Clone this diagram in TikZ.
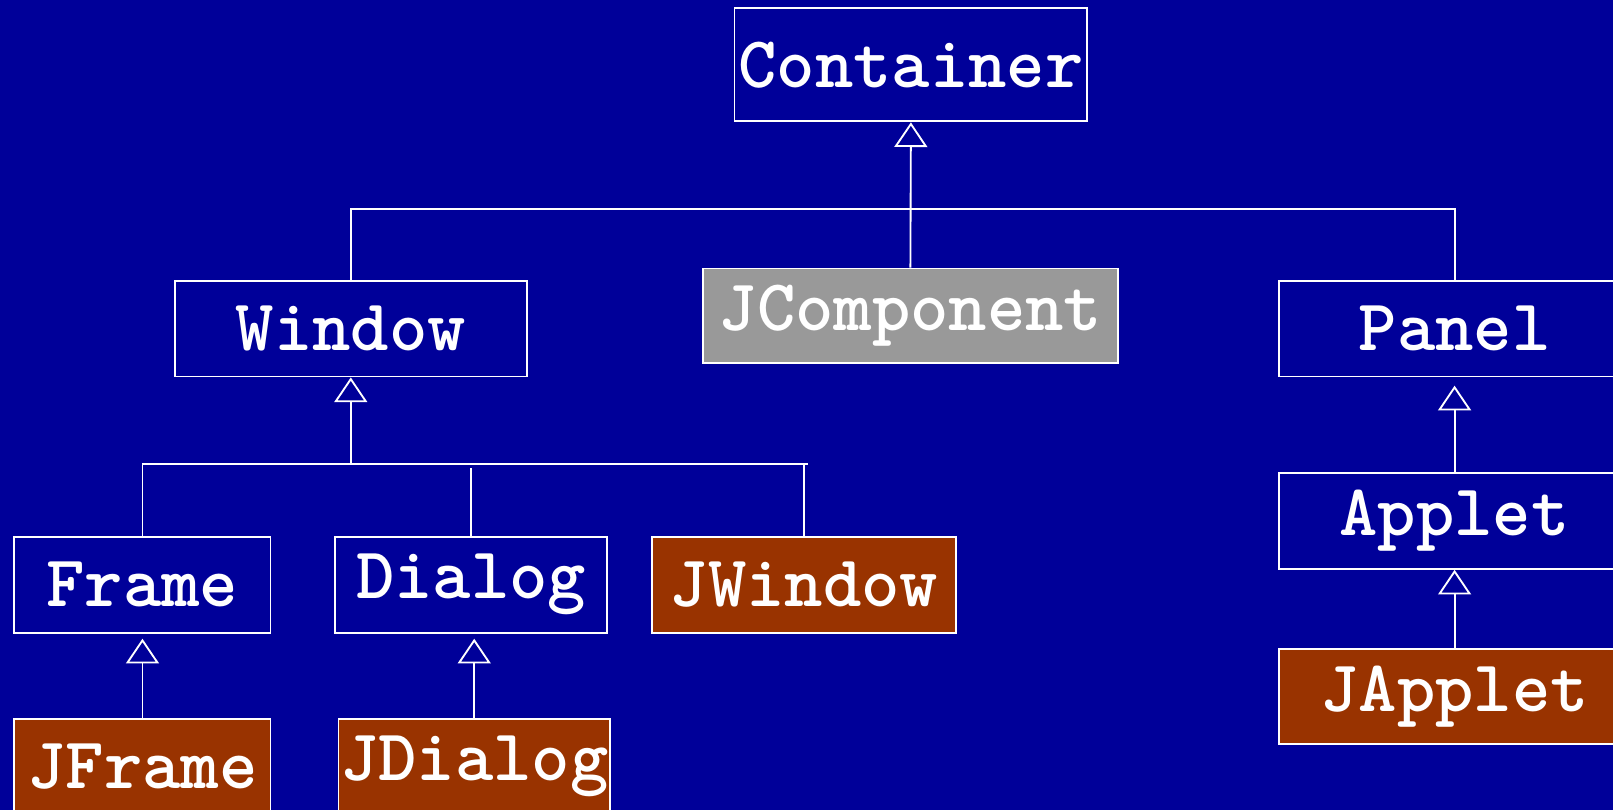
\documentclass[tikz,border=0pt]{standalone}
\usepackage{fontspec}
\usetikzlibrary{arrows.meta}
\definecolor{bgblue}{HTML}{000099}
\definecolor{swingbrown}{HTML}{993300}
\definecolor{jgray}{HTML}{999999}
\def\clsfont{\ttfamily\bfseries\fontsize{35.5}{35.5}\selectfont}

\begin{document}
\begin{tikzpicture}[x=0.5pt, y=-0.5pt,
    cls/.style={draw=white, line width=0.9pt, text=white, font=\clsfont, inner sep=0pt, minimum height=46.5pt},
    swing/.style={cls, fill=swingbrown},
    inherit/.style={white, line width=0.9pt, -{Triangle[open, width=16pt, length=12pt]}},
    link/.style={draw=white, line width=0.9pt}]
\useasboundingbox (0,0) rectangle (1568,787);
\fill[bgblue] (0,0) rectangle (1568,787);
\clip (0,0) rectangle (1568,787);
%
      \node [cls, minimum width=171.5pt, minimum height=55pt] at (885.5,63) (container) {Container};
       \node [cls] at (341,319.5) [minimum width=171pt] (window) {Window};
        \node [cls, fill=jgray] at (885,307) [minimum width=202pt, minimum height=46pt] (jcomp) {JComponent};
         \node [cls] at (1414,319.5) [minimum width=171pt] (panel) {Panel};
          \node [cls] at (138.5,568.5) [minimum width=124.5pt] (frame) {Frame};
           \node [cls] at (458,568.5) [minimum width=132pt] (dialog) {Dialog};
            \node [swing] at (781.5,568.5) [minimum width=147.5pt] (jwindow) {JWindow};
             \node [swing] at (138.5,745) [minimum width=124.5pt, minimum height=46pt] (jframe) {JFrame};
              \node [swing] at (461,745) [minimum width=132pt, minimum height=46pt] (jdialog) {JDialog};
               \node [cls] at (1414,506.5) [minimum width=171pt] (applet) {Applet};
                \node [swing] at (1414,677) [minimum width=171pt, minimum height=46pt] (japplet) {JApplet};
%
\coordinate (topbus) at (885,203);
\coordinate (winbus) at (341,451);
%
\path[inherit] (jcomp.north) edge (container.south);
\draw[link] (window.north) -- (window.north |- topbus) -- (panel.north |- topbus) -- (panel.north);
\path[inherit] (winbus) edge (window.south);
\draw[link] (frame.north |- winbus) -- ([xshift=2pt]jwindow.north |- winbus);
\draw[link] (frame.north) -- (frame.north |- winbus);
\draw[link] (dialog.north) -- ([yshift=-2pt]dialog.north |- winbus);
\draw[link] (jwindow.north) -- (jwindow.north |- winbus);
\path[inherit] (jframe.north) edge ([yshift=-2.5pt]frame.south);
\path[inherit] (jdialog.north) edge ([yshift=-2.5pt]jdialog.north |- dialog.south);
\path[inherit] (applet.north) edge ([yshift=-4pt]panel.south);
\path[inherit] (japplet.north) edge (applet.south);

\end{tikzpicture}
\end{document}
